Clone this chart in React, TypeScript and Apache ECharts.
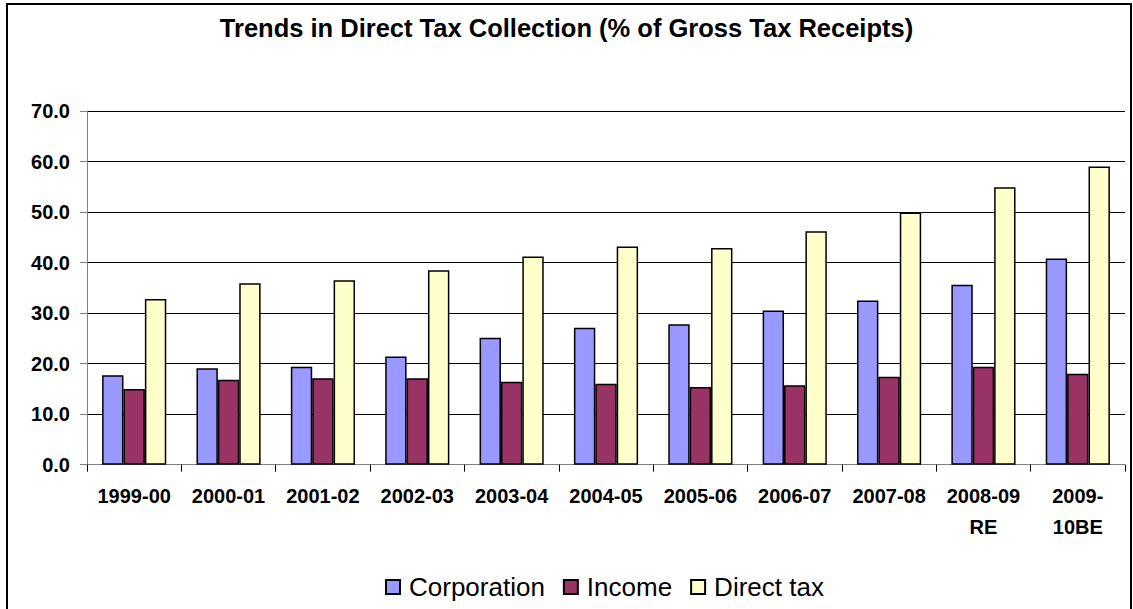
import React, { useEffect, useRef } from "react";
import * as echarts from "echarts";

const categories = [
  "1999-00",
  "2000-01",
  "2001-02",
  "2002-03",
  "2003-04",
  "2004-05",
  "2005-06",
  "2006-07",
  "2007-08",
  "2008-09\nRE",
  "2009-\n10BE",
];
const corporation = [17.7, 19.1, 19.4, 21.4, 25.1, 27.1, 27.8, 30.5, 32.5, 35.6, 40.8];
const income = [15.0, 16.8, 17.1, 17.1, 16.4, 16.0, 15.4, 15.7, 17.4, 19.4, 18.0];
const directTax = [32.8, 35.9, 36.5, 38.5, 41.2, 43.2, 42.9, 46.2, 49.9, 54.9, 59.0];
const seriesNames = ["Corporation", "Income", "Direct tax"];
const titleText = "Trends in Direct Tax Collection (% of Gross Tax Receipts)";

const FONT = "'Liberation Sans', Arial, sans-serif";

export default function App() {
  const ref = useRef<HTMLDivElement>(null);

  useEffect(() => {
    if (!ref.current) return;
    const chart = echarts.init(ref.current, null, { renderer: "svg" });
    const colors = ["#9999FF", "#993366", "#FFFFCC"];
    const data = [corporation, income, directTax];
    chart.setOption({
      animation: false,
      backgroundColor: "#ffffff",
      title: {
        text: titleText,
        left: "center",
        top: 14,
        padding: 0,
        textStyle: {
          fontFamily: FONT,
          fontWeight: "bold",
          fontSize: 25.5,
          lineHeight: 28,
          color: "#000",
        },
      },
      graphic: [
        {
          type: "rect",
          shape: { x: 7, y: 4, width: 1124, height: 640 },
          style: { fill: "none", stroke: "#000", lineWidth: 2 },
          silent: true,
        },
      ],
      legend: {
        left: 385,
        top: 572,
        padding: 0,
        itemWidth: 14,
        itemHeight: 14,
        itemGap: 18,
        icon: "rect",
        textStyle: {
          fontFamily: FONT,
          fontSize: 26,
          lineHeight: 30,
          padding: [0, 0, 0, 4],
          color: "#000",
        },
        data: seriesNames,
      },
      grid: {
        left: 87,
        right: 8,
        top: 111,
        bottom: 144.3,
        containLabel: false,
      },
      xAxis: {
        type: "category",
        data: categories,
        axisLine: { lineStyle: { color: "#808080", width: 1 } },
        axisTick: { show: true, length: 7, lineStyle: { color: "#000" } },
        axisLabel: {
          interval: 0,
          margin: 16,
          fontFamily: FONT,
          fontWeight: "bold",
          fontSize: 20,
          lineHeight: 31,
          color: "#000",
        },
      },
      yAxis: {
        type: "value",
        min: 0,
        max: 70,
        interval: 10,
        axisLine: { show: true, lineStyle: { color: "#808080", width: 1 } },
        axisTick: { show: true, length: 7, lineStyle: { color: "#808080" } },
        axisLabel: {
          margin: 17,
          formatter: (v: number) => v.toFixed(1),
          fontFamily: FONT,
          fontWeight: "bold",
          fontSize: 20,
          color: "#000",
        },
        splitLine: { show: true, lineStyle: { color: "#000", width: 1 } },
      },
      series: seriesNames.map((name, i) => ({
        name,
        type: "bar",
        data: data[i],
        barGap: "0%",
        barCategoryGap: "32%",
        itemStyle: {
          color: colors[i],
          borderColor: "#000",
          borderWidth: 1.5,
        },
      })),
    });
    return () => chart.dispose();
  }, []);

  return (
    <div
      ref={ref}
      style={{ position: "absolute", left: 0, top: 0, width: 1133, height: 609 }}
    />
  );
}
